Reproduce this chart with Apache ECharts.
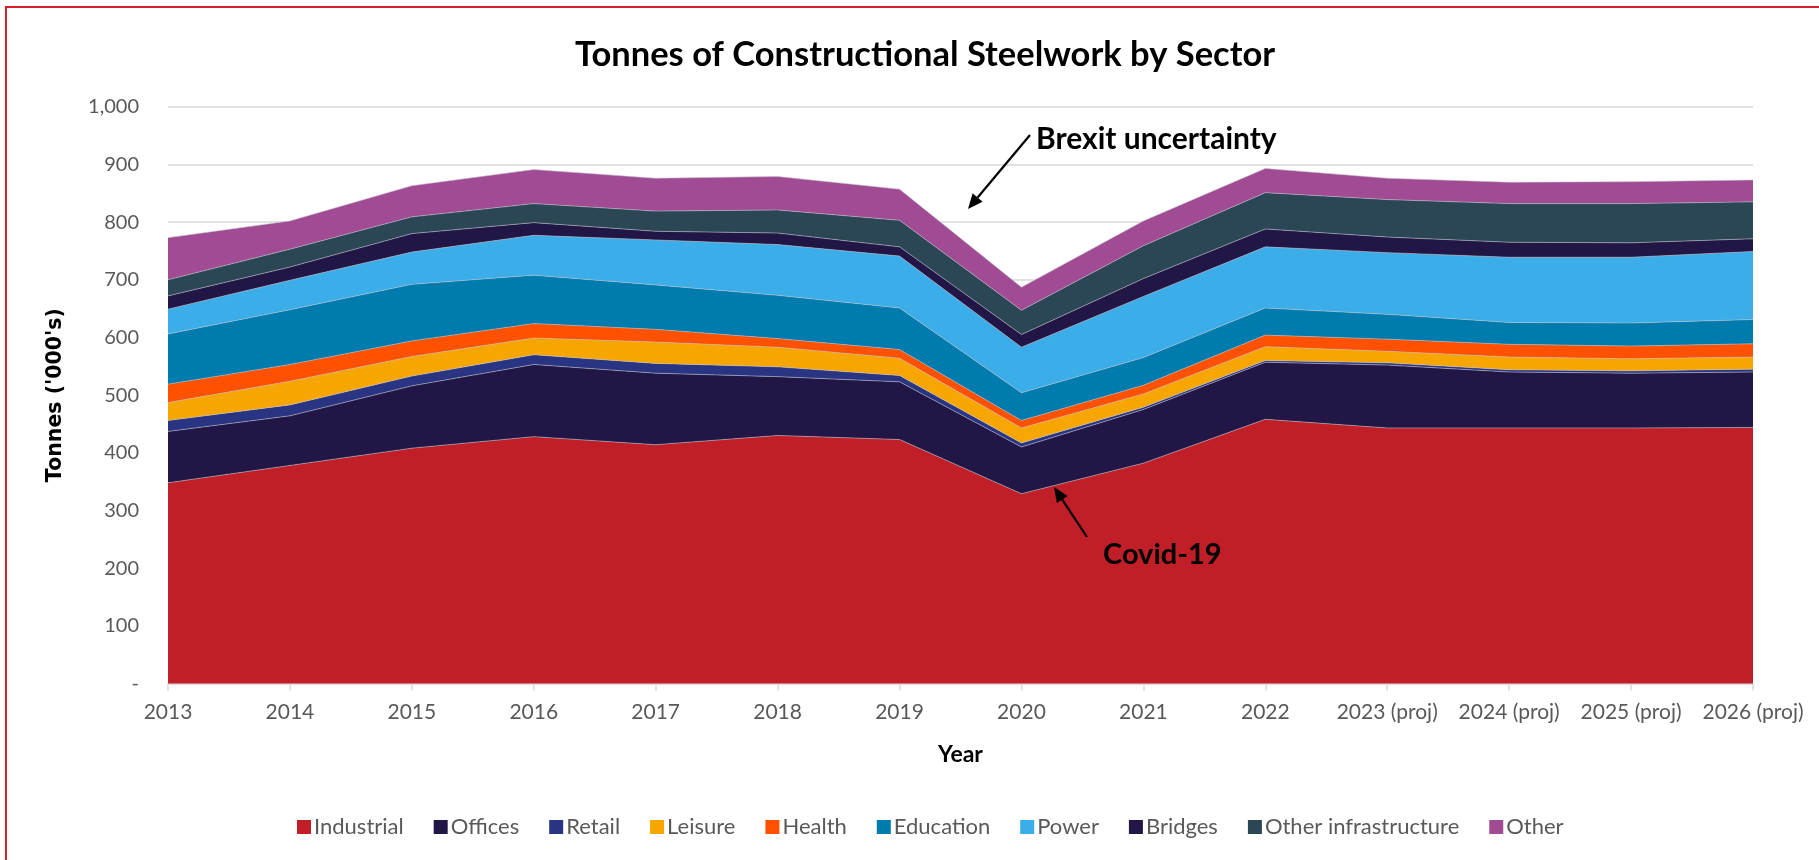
<!DOCTYPE html>
<html>
<head>
<meta charset="utf-8">
<script src="https://cdn.jsdelivr.net/npm/echarts@6/dist/echarts.min.js"></script>
<style>
  html, body { margin: 0; padding: 0; background: #fff; }
  #wrap { position: relative; width: 1819px; height: 860px; overflow: hidden; }
  #chart { position: absolute; left: 0; top: 0; width: 1819px; height: 860px; }
  #frame { position: absolute; left: 5px; top: 6px; width: 1900px; height: 1000px;
           border-left: 2px solid #d0232b; border-top: 2px solid #d0232b; pointer-events: none; }
</style>
</head>
<body>
<div id="wrap">
  <div id="chart"></div>
  <div id="frame"></div>
</div>
<script>
const years = ['2013','2014','2015','2016','2017','2018','2019','2020','2021','2022',
               '2023 (proj)','2024 (proj)','2025 (proj)','2026 (proj)'];

const industrial         = [348, 378, 408, 428, 414, 430, 423, 329, 382, 458, 443, 443, 443, 444];
const offices            = [ 89,  86, 108, 125, 124, 102, 100,  81,  93,  99, 109,  97,  95,  96];
const retail             = [ 19,  19,  17,  17,  17,  17,  11,   7,   4,   3,   4,   4,   4,   5];
const leisure            = [ 31,  41,  34,  29,  37,  34,  30,  26,  23,  24,  20,  22,  21,  21];
const health             = [ 32,  29,  27,  25,  22,  15,  15,  13,  15,  20,  21,  22,  22,  23];
const education          = [ 87,  95,  98,  84,  77,  75,  72,  48,  48,  47,  43,  38,  40,  42];
const power              = [ 43,  51,  56,  69,  78,  88,  90,  79, 106, 106, 107, 113, 114, 118];
const bridges            = [ 23,  23,  32,  22,  15,  20,  16,  22,  31,  31,  27,  26,  25,  22];
const otherInfrastructure= [ 28,  31,  29,  33,  35,  40,  46,  42,  57,  63,  65,  67,  68,  64];
const other              = [ 73,  49,  54,  59,  57,  58,  54,  40,  43,  42,  37,  37,  38,  38];

const yTicks = { min: 0, max: 1000, interval: 100 };

const seriesDefs = [
  ['Industrial', industrial, '#c11f27'],
  ['Offices', offices, '#211645'],
  ['Retail', retail, '#293583'],
  ['Leisure', leisure, '#f7a600'],
  ['Health', health, '#ff5100'],
  ['Education', education, '#007bad'],
  ['Power', power, '#3badE8'],
  ['Bridges', bridges, '#211645'],
  ['Other infrastructure', otherInfrastructure, '#2b4756'],
  ['Other', other, '#a04b93']
];

const FONT = 'Lato, "Open Sans", sans-serif';

function arrow(x1, y1, x2, y2) {
  const ang = Math.atan2(y2 - y1, x2 - x1);
  const L = 15, W = 6.5;
  const bx = x2 - L * Math.cos(ang), by = y2 - L * Math.sin(ang);
  const px = -Math.sin(ang), py = Math.cos(ang);
  return [
    { type: 'line', shape: { x1: x1, y1: y1, x2: bx, y2: by },
      style: { stroke: '#000', lineWidth: 2.2 }, z: 100 },
    { type: 'polygon', shape: { points: [[x2, y2], [bx + px * W, by + py * W], [bx - px * W, by - py * W]] },
      style: { fill: '#000' }, z: 100 }
  ];
}

const chart = echarts.init(document.getElementById('chart'), null, { renderer: 'canvas' });

const option = {
  backgroundColor: '#fff',
  animation: false,
  title: {
    text: 'Tonnes of Constructional Steelwork by Sector',
    left: 920, top: 32, textAlign: 'center',
    textStyle: { fontFamily: FONT, fontWeight: 'bold', fontSize: 34.5, color: '#000' }
  },
  legend: {
    data: seriesDefs.map(d => d[0]),
    left: 292, top: 811,
    itemWidth: 14, itemHeight: 14, itemGap: 30,
    icon: 'rect',
    textStyle: { fontFamily: FONT, fontSize: 22, color: '#595959', padding: [0, 0, 0, -2] }
  },
  grid: { left: 168, right: 66, top: 106.7, bottom: 176.5, containLabel: false },
  xAxis: {
    type: 'category',
    data: years,
    boundaryGap: false,
    name: 'Year',
    nameLocation: 'middle',
    nameGap: 60,
    nameTextStyle: { fontFamily: FONT, fontWeight: 'bold', fontSize: 23, color: '#000' },
    axisLine: { lineStyle: { color: '#d9d9d9', width: 1.5 } },
    axisTick: { show: true, length: 7, lineStyle: { color: '#d9d9d9', width: 1.5 } },
    axisLabel: { fontFamily: FONT, fontSize: 21, color: '#595959', margin: 18, interval: 0 },
    splitLine: { show: false }
  },
  yAxis: {
    type: 'value',
    min: yTicks.min, max: yTicks.max, interval: yTicks.interval,
    name: "Tonnes ('000's)",
    nameLocation: 'middle',
    nameGap: 102,
    nameRotate: 90,
    nameTextStyle: { fontFamily: '"DejaVu Sans", Verdana, sans-serif', fontWeight: 'bold', fontSize: 20.5, color: '#000' },
    axisLine: { show: false },
    axisTick: { show: false },
    axisLabel: {
      fontFamily: FONT, fontSize: 20, color: '#595959', margin: 29,
      formatter: v => v === 0 ? '-' : v.toLocaleString('en-US')
    },
    splitLine: { lineStyle: { color: '#d9d9d9', width: 1.5 } }
  },
  series: seriesDefs.map(d => ({
    name: d[0],
    type: 'line',
    stack: 'total',
    data: d[1],
    symbol: 'none',
    smooth: false,
    itemStyle: { color: d[2] },
    lineStyle: { width: 0.8, color: 'rgba(190,190,200,0.7)' },
    areaStyle: { color: d[2], opacity: 1 },
    emphasis: { disabled: true }
  })),
  graphic: [
    { type: 'text', left: 1036, top: 124, z: 100,
      style: { text: 'Brexit uncertainty', font: 'bold 30px ' + FONT, fill: '#000' } },
    { type: 'text', left: 1103, top: 540, z: 100,
      style: { text: 'Covid-19', font: 'bold 29px ' + FONT, fill: '#000' } },
    ...arrow(1030, 135, 968, 209),
    ...arrow(1087, 537, 1054, 487)
  ]
};

chart.setOption(option);
</script>
</body>
</html>
